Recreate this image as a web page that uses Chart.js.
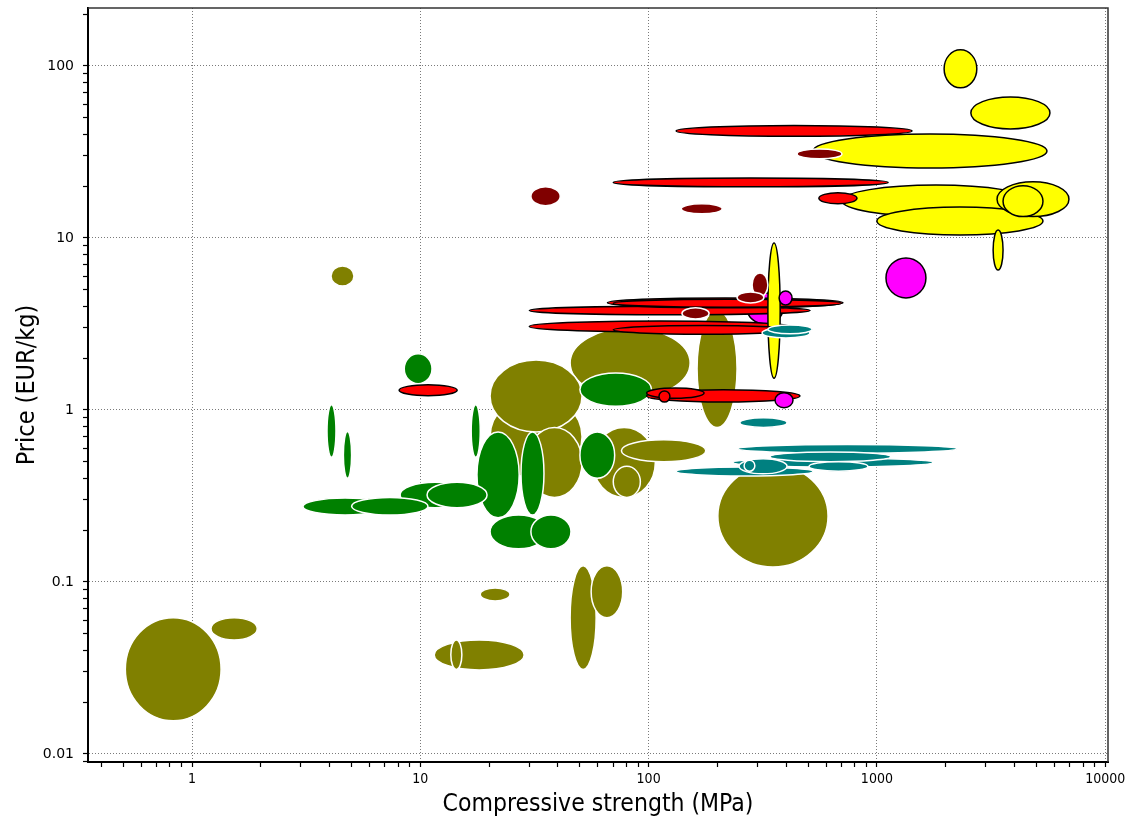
<!DOCTYPE html>
<html>
<head>
<meta charset="utf-8">
<title>Price vs compressive strength</title>
<script src="https://cdn.jsdelivr.net/npm/chart.js@4.4.0/dist/chart.umd.min.js"></script>
<style>
    html, body { margin: 0; padding: 0; background: #fff; }
    #wrap { width: 1134px; height: 821px; }
</style>
</head>
<body>
<div id="wrap"><canvas id="chart"></canvas></div>
<script>
// each bubble: [strength low, strength high, price low, price high]
const olive = [
    [0.51, 1.34, 0.0156, 0.062],
    [1.21, 1.93, 0.046, 0.062],
    [4.06, 5.12, 5.26, 6.87],
    [18.3, 24.7, 0.0776, 0.0923],
    [11.5, 28.5, 0.0308, 0.046],
    [13.6, 15.2, 0.031, 0.046],
    [45.3, 58.9, 0.031, 0.124],
    [56, 77, 0.062, 0.124],
    [201, 611, 0.122, 0.479],
    [20.2, 51.1, 0.745, 1.95],
    [20.2, 51.1, 0.40, 1.22],
    [29.3, 51.1, 0.31, 0.79],
    [45.3, 152, 1.17, 3.0],
    [163, 244, 0.79, 3.8],
    [57, 107, 0.31, 0.79],
    [70, 92, 0.31, 0.47],
    [76, 178, 0.50, 0.67]
];

const green = [
    [8.5, 11.25, 1.42, 2.12],
    [3.9, 4.27, 0.53, 1.07],
    [4.6, 5.0, 0.40, 0.75],
    [16.7, 18.3, 0.53, 1.07],
    [3.06, 7.15, 0.245, 0.308],
    [5.0, 10.8, 0.245, 0.31],
    [8.15, 16.5, 0.27, 0.38],
    [10.7, 19.6, 0.27, 0.38],
    [17.7, 27.1, 0.236, 0.745],
    [27.6, 34.8, 0.245, 0.745],
    [20.2, 35.9, 0.156, 0.245],
    [30.5, 45.7, 0.156, 0.245],
    [50, 71, 0.40, 0.745],
    [50, 103, 1.05, 1.64]
];

const teal = [
    [251, 404, 0.79, 0.90],
    [246, 2240, 0.56, 0.63],
    [340, 1150, 0.50, 0.57],
    [234, 1760, 0.466, 0.526],
    [132, 525, 0.413, 0.466],
    [249, 404, 0.425, 0.52],
    [262, 292, 0.44, 0.51],
    [504, 914, 0.44, 0.50],
    [314, 509, 2.62, 3.0],
    [333, 520, 2.77, 3.12]
];

const red = [
    [132, 1425, 39, 45],
    [70, 1120, 19.8, 22.3],
    [557, 818, 15.8, 18.3],
    [8.07, 14.5, 1.21, 1.40],
    [66, 710, 3.92, 4.48],
    [70, 700, 3.95, 4.4],
    [30, 510, 3.57, 4.0],
    [30, 416, 2.84, 3.29],
    [70, 430, 2.75, 3.1],
    [98, 460, 1.11, 1.31],
    [98, 175, 1.17, 1.34],
    [111, 124, 1.11, 1.29]
];

const darkRed = [
    [30.5, 41, 15.4, 19.8],
    [139, 210, 13.8, 15.8],
    [447, 703, 28.8, 32.9],
    [284, 333, 4.54, 6.26],
    [244, 320, 4.19, 4.85],
    [140, 184, 3.38, 3.92]
];

const magenta = [
    [1096, 1640, 4.48, 7.65],
    [373, 425, 4.07, 4.92],
    [358, 429, 1.03, 1.26]
];

// the magenta bubble that sits behind the red bands
const magentaBack = [
    [270, 388, 3.16, 4.79]
];

const yellow = [
    [1970, 2740, 74.5, 124],
    [2580, 5730, 43, 66],
    [525, 5560, 25.5, 40.2],
    [703, 4690, 13.3, 20.3],
    [1000, 5340, 10.4, 15.1],
    [3360, 6940, 13.3, 21.2],
    [3570, 5340, 13.3, 20.1],
    [3230, 3570, 6.5, 11.1],
    [333, 377, 1.53, 9.35]
];

const xMajorTicks = [1, 10, 100, 1000, 10000];
const xTickLabels = ['1', '10', '100', '1000', '10000'];
const yMajorTicks = [0.01, 0.1, 1, 10, 100];
const yTickLabels = ['0.01', '0.1', '1', '10', '100'];

const xRange = [0.35, 10290];
const yRange = [0.00898, 217];

const families = [
    { items: magentaBack, fill: '#ff00ff', edge: '#000000', layer: 0 },
    { items: olive,   fill: '#808000', edge: '#ffffff', layer: 1 },
    { items: green,   fill: '#008000', edge: '#ffffff', layer: 1 },
    { items: teal,    fill: '#008080', edge: '#ffffff', layer: 1 },
    { items: red,     fill: '#ff0000', edge: '#000000', layer: 1 },
    { items: darkRed, fill: '#800000', edge: '#ffffff', layer: 1 },
    { items: magenta, fill: '#ff00ff', edge: '#000000', layer: 1 },
    { items: yellow,  fill: '#ffff00', edge: '#000000', layer: 1 }
];

const condensed = "'DejaVu Sans Condensed', 'DejaVu Sans', sans-serif";

// 1..9 x 10^n between the axis limits
function logTicks(lo, hi) {
    const out = [];
    for (let e = Math.floor(Math.log10(lo)); e <= Math.ceil(Math.log10(hi)); e++) {
        for (let m = 1; m < 10; m++) {
            const v = parseFloat((m * Math.pow(10, e)).toPrecision(3));
            if (v >= lo && v <= hi) out.push(v);
        }
    }
    return out;
}

function isMajor(v, majors) {
    return majors.some(m => Math.abs(v / m - 1) < 1e-6);
}

function labelFor(v, majors, labels) {
    const i = majors.findIndex(m => Math.abs(v / m - 1) < 1e-6);
    return i >= 0 ? labels[i] : '';
}

const ellipsePlugin = {
    id: 'ellipses',
    afterDatasetsDraw(chart) {
        const { ctx, chartArea } = chart;
        const xs = chart.scales.x;
        const ys = chart.scales.y;
        const shapes = [];
        chart.data.datasets.forEach(ds => {
            ds.bounds.forEach(b => {
                const x1 = xs.getPixelForValue(b[0]);
                const x2 = xs.getPixelForValue(b[1]);
                const y1 = ys.getPixelForValue(b[2]);
                const y2 = ys.getPixelForValue(b[3]);
                shapes.push({
                    cx: (x1 + x2) / 2, cy: (y1 + y2) / 2,
                    rx: Math.abs(x2 - x1) / 2, ry: Math.abs(y2 - y1) / 2,
                    fill: ds.fillColor, edge: ds.edgeColor, layer: ds.layer
                });
            });
        });
        // lower layer first, then bigger bubbles underneath
        shapes.sort((a, b) => (a.layer - b.layer) || (b.rx * b.ry - a.rx * a.ry));

        ctx.save();
        ctx.beginPath();
        ctx.rect(chartArea.left, chartArea.top, chartArea.right - chartArea.left, chartArea.bottom - chartArea.top);
        ctx.clip();
        ctx.lineWidth = 1.5;
        shapes.forEach(s => {
            ctx.beginPath();
            ctx.ellipse(s.cx, s.cy, s.rx, s.ry, 0, 0, Math.PI * 2);
            ctx.fillStyle = s.fill;
            ctx.fill();
            ctx.strokeStyle = s.edge;
            ctx.stroke();
        });
        ctx.restore();
    },
    afterDraw(chart) {
        const { ctx, chartArea } = chart;
        ctx.save();
        ctx.strokeStyle = '#333';
        ctx.lineWidth = 1.5;
        ctx.beginPath();
        ctx.moveTo(chartArea.left, chartArea.top);
        ctx.lineTo(chartArea.right, chartArea.top);
        ctx.lineTo(chartArea.right, chartArea.bottom);
        ctx.stroke();
        ctx.restore();
    }
};

function axisOptions(range, majors, labels, tickFont, tickPad, title, titleFont, titlePad) {
    return {
        type: 'logarithmic',
        min: range[0],
        max: range[1],
        bounds: 'data',
        afterBuildTicks(scale) {
            scale.ticks = logTicks(range[0], range[1]).map(v => ({ value: v, major: isMajor(v, majors) }));
        },
        ticks: {
            autoSkip: false,
            maxRotation: 0,
            minRotation: 0,
            color: '#000',
            font: tickFont,
            padding: tickPad,
            callback: v => labelFor(v, majors, labels)
        },
        grid: {
            color: c => (c.tick && isMajor(c.tick.value, majors)) ? '#7a7a7a' : 'rgba(0,0,0,0)',
            lineWidth: 1,
            tickColor: '#000',
            tickLength: 5,
            tickWidth: 1.2
        },
        border: { display: true, color: '#000', width: 2, dash: [1, 2] },
        title: {
            display: true,
            text: title,
            color: '#000',
            font: titleFont,
            padding: titlePad
        }
    };
}

const xAxis = axisOptions(xRange, xMajorTicks, xTickLabels,
    { family: condensed, size: 14 }, 4,
    'Compressive strength (MPa)', { family: condensed, size: 24.5 }, { top: 4, bottom: 2 });
xAxis.afterFit = scale => {
    scale.height = 59;
    scale.paddingLeft = 0;
    scale.paddingRight = 0;
};

const yAxis = axisOptions(yRange, yMajorTicks, yTickLabels,
    { family: "'DejaVu Sans', sans-serif", size: 14 }, 9,
    'Price (EUR/kg)', { family: condensed, size: 25 }, { top: 12, bottom: 0 });
yAxis.afterFit = scale => {
    scale.width = 88;
    scale.paddingTop = 0;
    scale.paddingBottom = 0;
};

document.addEventListener('DOMContentLoaded', function() {
    const ctx = document.getElementById('chart').getContext('2d');
    new Chart(ctx, {
        type: 'scatter',
        data: {
            datasets: families.map(f => ({
                data: f.items.map(b => ({ x: Math.sqrt(b[0] * b[1]), y: Math.sqrt(b[2] * b[3]) })),
                bounds: f.items,
                fillColor: f.fill,
                edgeColor: f.edge,
                layer: f.layer,
                pointRadius: 0,
                pointHoverRadius: 0
            }))
        },
        options: {
            responsive: true,
            maintainAspectRatio: false,
            animation: false,
            devicePixelRatio: 1,
            layout: { padding: { left: 0, right: 26, top: 8, bottom: 0 } },
            plugins: {
                legend: { display: false },
                tooltip: { enabled: false }
            },
            scales: { x: xAxis, y: yAxis }
        },
        plugins: [ellipsePlugin]
    });
});
</script>
</body>
</html>
